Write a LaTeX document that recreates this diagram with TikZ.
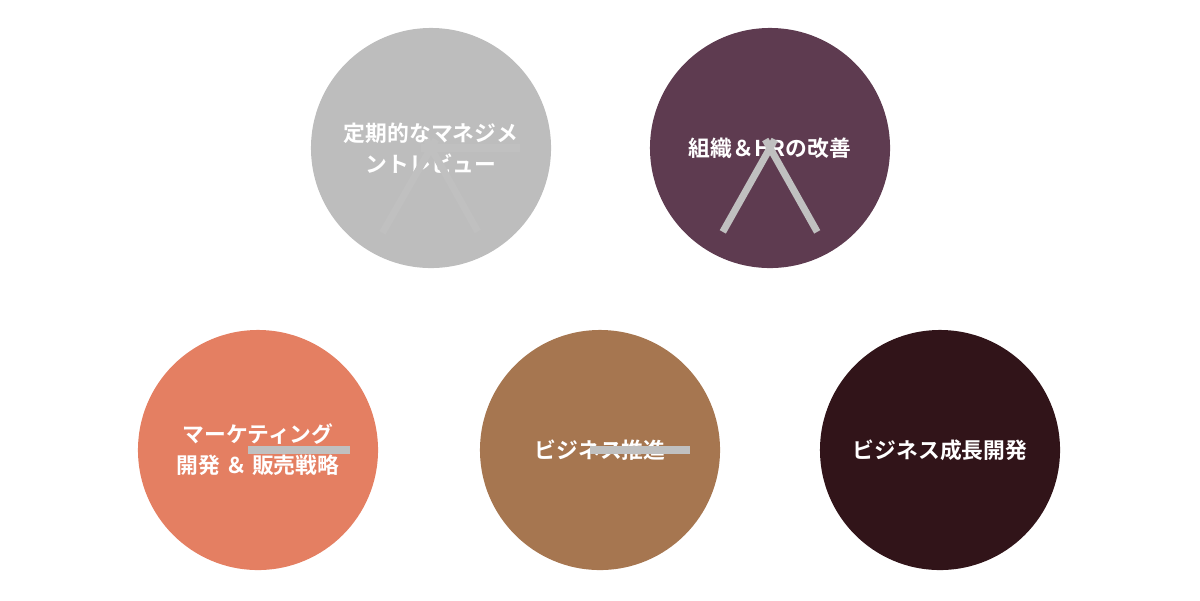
\documentclass[tikz,border=0pt]{standalone}
\usepackage{fontspec}
\newfontfamily\cjk{Noto Sans CJK JP Bold}
\definecolor{cgray}{HTML}{BDBDBD}
\definecolor{cplum}{HTML}{5E3B50}
\definecolor{csalmon}{HTML}{E47F62}
\definecolor{cbrown}{HTML}{A67650}
\definecolor{cdark}{HTML}{311419}
\definecolor{clink}{HTML}{C0C0C0}
\begin{document}
\begin{tikzpicture}[x=0.025cm,y=-0.025cm]
\tikzset{
  ball/.style={circle,minimum size=6cm,inner sep=0pt,align=center,text=white,
    font=\cjk\fontsize{15.5}{22}\selectfont},
  link/.style={draw=clink,line width=5pt,shorten >=3.25cm,shorten <=3.25cm}
}
\useasboundingbox (0,0) rectangle (1200,600);
\node[ball,fill=cgray] (review) at (431,148) {定期的なマネジメ\\ントレビュー};
\node[ball,fill=cplum] (hr) at (770,148) {組織＆HRの改善};
\node[ball,fill=csalmon] (mkt) at (258,450) {マーケティング\\開発 ＆ 販売戦略};
\node[ball,fill=cbrown] (biz) at (600,450) {ビジネス推進};
\node[ball,fill=cdark] (grow) at (940,450) {ビジネス成長開発};
\draw[link] (review) -- (hr);
\draw[link] (review) -- (mkt);
\draw[link] (review) -- (biz);
\draw[link] (hr) -- (biz);
\draw[link] (hr) -- (grow);
\draw[link] (mkt) -- (biz);
\draw[link] (biz) -- (grow);
\end{tikzpicture}
\end{document}
